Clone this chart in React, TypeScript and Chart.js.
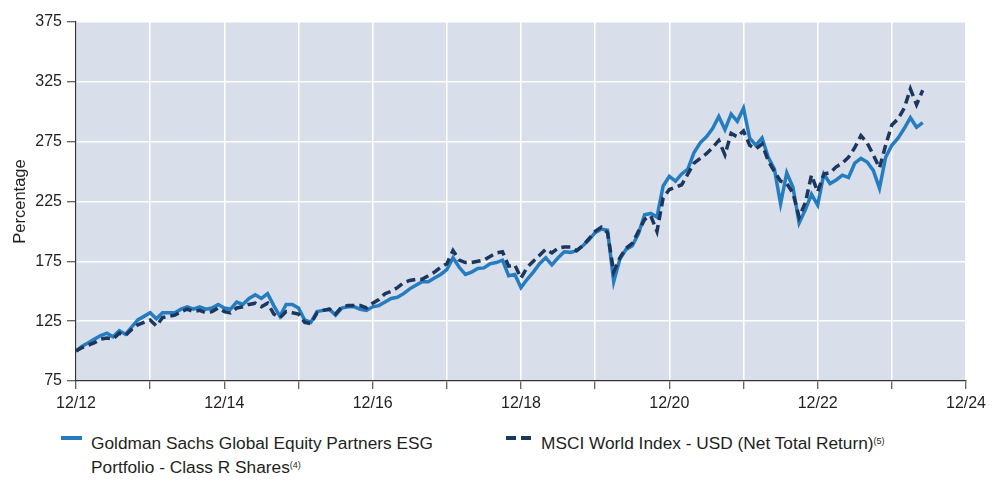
import React, { useEffect, useRef } from "react";
import { Chart, registerables } from "chart.js";

Chart.register(...registerables);

// Months since 12/12 (index = month offset)
const fundValues: number[] = [
  100, 104, 107, 110, 113, 115, 112, 117, 114, 120, 126, 129,
  132, 127, 132, 132, 132, 135, 137, 135, 137, 135, 136, 139,
  136, 135, 141, 139, 144, 147, 144, 148, 138, 129, 139, 139,
  136, 126, 124, 133, 134, 135, 130, 136, 137, 137, 135, 134,
  137, 138, 141, 144, 145, 148, 152, 155, 158, 158, 161, 164,
  168, 178, 170, 164, 166, 169, 169.5, 173, 174, 176, 163, 164,
  153, 160, 166, 173, 178, 172, 178, 183, 182.5, 184, 188, 193,
  199, 202, 201, 158, 177, 185, 188, 198, 214, 215, 212, 238,
  246, 242, 248, 252, 266, 274, 279, 286, 296, 285, 298, 292,
  303, 278, 272, 278, 262, 252, 223, 249, 237, 207, 218, 231,
  222, 248, 240, 243, 247, 245, 257, 261, 258, 251, 236, 262,
  272, 278, 286, 295, 287, 291,
];

const msciValues: number[] = [
  100, 103, 105, 107, 110, 111, 110, 115, 113, 118, 122, 124,
  126, 121, 128, 129, 130, 133, 135, 133, 134, 132, 133, 136,
  133, 132, 136, 137, 139, 140, 137, 140, 131, 128, 133, 132,
  131, 124, 123, 132, 134, 135, 131, 137, 138, 138, 138, 136,
  140, 143, 148, 150, 153, 157, 159, 160, 160, 163, 166, 170,
  173, 184, 176, 174, 174, 175, 176, 179, 182, 183, 171, 172,
  161, 170, 175, 180, 185, 182, 186, 187, 187, 184, 188, 194,
  200, 203.6, 199, 166, 178, 186, 190, 200, 210, 213, 200, 228,
  235, 237, 239, 248, 257, 261, 265, 270, 276, 264, 282, 279,
  284, 272, 269, 273, 259, 250, 242, 240, 232, 212, 224, 247,
  233, 248, 249, 254, 257, 262, 270, 280, 274, 264, 253, 272,
  289, 294, 303, 319, 306, 318,
];

const xTickLabels: string[] = ["12/12", "12/14", "12/16", "12/18", "12/20", "12/22", "12/24"];
const yTickValues: number[] = [75, 125, 175, 225, 275, 325, 375];

const fundLabel = "Goldman Sachs Global Equity Partners ESG";
const fundLabel2 = "Portfolio - Class R Shares";
const msciLabel = "MSCI World Index - USD (Net Total Return)";

const FONT = "'Liberation Sans', Arial, sans-serif";
const TEXT = "#231f20";
const AXIS = "#333333";
const FUND_COLOR = "#257dc0";
const MSCI_COLOR = "#1b365f";
const BG = "#d9dfea";

const bgPlugin = {
  id: "plotBg",
  beforeDraw(chart: any) {
    const { ctx, chartArea } = chart;
    if (!chartArea) return;
    ctx.save();
    ctx.fillStyle = BG;
    ctx.fillRect(chartArea.left, chartArea.top, chartArea.right - chartArea.left, chartArea.bottom - chartArea.top);
    ctx.restore();
  },
};

export default function App() {
  const canvasRef = useRef<HTMLCanvasElement | null>(null);

  useEffect(() => {
    if (!canvasRef.current) return;
    const toXY = (arr: number[]) => arr.map((v, i) => ({ x: i, y: v }));
    const chart = new Chart(canvasRef.current, {
      type: "line",
      data: {
        datasets: [
          {
            label: fundLabel + " " + fundLabel2,
            data: toXY(fundValues),
            borderColor: FUND_COLOR,
            borderWidth: 3.5,
            pointRadius: 0,
            tension: 0,
            order: 2,
          },
          {
            label: msciLabel,
            data: toXY(msciValues),
            borderColor: MSCI_COLOR,
            borderWidth: 3.5,
            borderDash: [9, 5],
            pointRadius: 0,
            tension: 0,
            order: 1,
          },
        ],
      },
      options: {
        animation: false,
        responsive: false,
        layout: { padding: { top: 22, right: 33, bottom: 0, left: 0 } },
        plugins: { legend: { display: false }, tooltip: { enabled: false } },
        scales: {
          x: {
            type: "linear",
            min: 0,
            max: 144,
            afterFit: (s: any) => {
              s.height = 39;
            },
            ticks: {
              stepSize: 12,
              autoSkip: false,
              maxRotation: 0,
              padding: 5,
              color: TEXT,
              font: { family: FONT, size: 16 },
              callback: (v: any) => (Number(v) % 24 === 0 ? xTickLabels[Number(v) / 24] : ""),
            },
            grid: { color: "#ffffff", lineWidth: 1.5, tickColor: AXIS, tickLength: 8, tickWidth: 1 },
            border: { color: AXIS, width: 1.2 },
          },
          y: {
            min: 75,
            max: 375,
            afterFit: (s: any) => {
              s.width = 76;
            },
            afterBuildTicks: (s: any) => {
              s.ticks = yTickValues.map((v) => ({ value: v }));
            },
            ticks: {
              padding: 5,
              color: TEXT,
              font: { family: FONT, size: 16 },
            },
            grid: { color: "#ffffff", lineWidth: 1.5, tickColor: AXIS, tickLength: 9, tickWidth: 1 },
            border: { color: AXIS, width: 1.2 },
            title: {
              display: true,
              text: "Percentage",
              color: TEXT,
              font: { family: FONT, size: 16.5 },
              padding: { top: 11, bottom: 0 },
            },
          },
        },
      },
      plugins: [bgPlugin],
    });
    return () => chart.destroy();
  }, []);

  const legendText: React.CSSProperties = {
    position: "absolute",
    fontFamily: FONT,
    fontSize: 17.3,
    lineHeight: "24px",
    color: TEXT,
    whiteSpace: "nowrap",
  };
  const sup: React.CSSProperties = { fontSize: 9, verticalAlign: "top", position: "relative", top: -2 };

  return (
    <div style={{ position: "absolute", left: 0, top: 0, width: 999, height: 482, background: "#fff" }}>
      <canvas ref={canvasRef} width={999} height={420} style={{ display: "block", width: 999, height: 420 }} />
      <div style={{ position: "absolute", left: 61, top: 436, width: 21, height: 4, background: FUND_COLOR }} />
      <div style={{ ...legendText, left: 91, top: 431 }}>
        {fundLabel}
        <br />
        {fundLabel2}
        <sup style={sup}>(4)</sup>
      </div>
      <div style={{ position: "absolute", left: 506, top: 436, width: 10, height: 4, background: MSCI_COLOR }} />
      <div style={{ position: "absolute", left: 521, top: 436, width: 10, height: 4, background: MSCI_COLOR }} />
      <div style={{ ...legendText, left: 541, top: 431 }}>
        {msciLabel}
        <sup style={sup}>(5)</sup>
      </div>
    </div>
  );
}
